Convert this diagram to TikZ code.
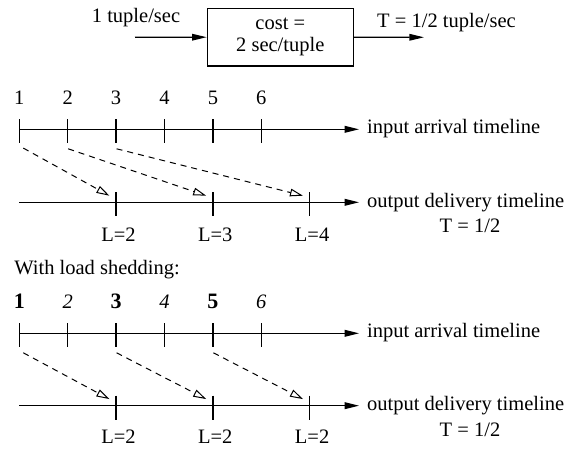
\documentclass[tikz,border=0pt]{standalone}
\usepackage{fontspec}
\setmainfont{Liberation Serif}
\usetikzlibrary{arrows.meta,calc}
\begin{document}
\begin{tikzpicture}[x=0.5pt,y=-0.5pt,
  every node/.style={font=\fontsize{10.25}{12}\selectfont, inner sep=0pt},
  lbl/.style={anchor=base},
  lblw/.style={anchor=base west},
  axis/.style={line width=0.62pt,-{Triangle[length=7.2pt,width=3.4pt]}},
  tickmark/.style={line width=0.62pt},
  flow/.style={line width=0.5pt,dash pattern=on 3pt off 2.5pt,-{Triangle[open,length=6.5pt,width=3.8pt]}},
  feed/.style={line width=0.62pt,-{Triangle[length=7.3pt,width=3.3pt]}},
  procbox/.style={draw,line width=0.62pt,minimum width=73pt,minimum height=28.85pt,align=center,
    font=\fontsize{10.25}{10.85}\selectfont}
]
\useasboundingbox (0,0) rectangle (574,449);

% top operator
\node[procbox] (box) at (280.3,37.2) {cost =\\2 sec/tuple};
\coordinate (inS) at (135,37.3);
\coordinate (outE) at (424,37.3);
\draw[feed] (inS) -- (box.west);
\draw[feed] (box.east) -- (outE);
\node[lbl] (inrate) at (136,22.7) {1 tuple/sec};
\node[lbl] (outrate) at (446.5,27.3) {T = 1/2 tuple/sec};

% ---------- without load shedding ----------
\coordinate (a0) at (19.3,129.3);
\coordinate (aE) at (359,129.3);
\draw[axis] (a0) -- (aE);
\foreach \i in {1,...,6} {
  \coordinate (a\i) at ({19.3+48.4*(\i-1)},129.3);
  \draw[tickmark] (a\i) ++(0,-10) -- ++(0,24);
  \node[lbl] (na\i) at ($(a\i)+(0,-24.3)$) {\i};
}
\node[lblw] (intxt) at (366.7,133.3) {input arrival timeline};

\coordinate (b0) at (19.3,202.3);
\coordinate (bE) at (359,202.3);
\draw[axis] (b0) -- (bE);
\foreach \i/\l in {1/2,2/3,3/4} {
  \coordinate (b\i) at ({116.1+96.8*(\i-1)},202.3);
  \draw[tickmark] (b\i) ++(0,-10) -- ++(0,24);
  \node[lbl] (lb\i) at ($(b\i)+(2.4,39.4)$) {L=\l};
}
\node[lblw] (outtxt) at (366.7,207.3) {output delivery timeline};
\node[lbl] (tb) at (470,232.7) {T = 1/2};

\draw[flow] ($(a1)+(4,18.8)$) -- ($(b1)+(-6.7,-6.6)$);
\draw[flow] ($(a2)+(0.5,19.5)$) -- ($(b2)+(-6.7,-6.6)$);
\draw[flow] ($(a3)+(0.5,19.5)$) -- ($(b3)+(-6.7,-6.6)$);

% ---------- with load shedding ----------
\node[lblw] (ls) at (14,275) {With load shedding:};

\coordinate (c0) at (19.3,333.3);
\coordinate (cE) at (359,333.3);
\draw[axis] (c0) -- (cE);
\foreach \i in {1,...,6} {
  \coordinate (c\i) at ({19.3+48.4*(\i-1)},333.3);
  \draw[tickmark] (c\i) ++(0,-10) -- ++(0,24);
}
\node[lbl,font=\fontsize{11}{12}\selectfont\bfseries] (nc1) at ($(c1)+(0,-25)$) {1};
\node[lbl,font=\fontsize{10.25}{12}\selectfont\itshape] (nc2) at ($(c2)+(0,-25)$) {2};
\node[lbl,font=\fontsize{11}{12}\selectfont\bfseries] (nc3) at ($(c3)+(0,-25)$) {3};
\node[lbl,font=\fontsize{10.25}{12}\selectfont\itshape] (nc4) at ($(c4)+(0,-25)$) {4};
\node[lbl,font=\fontsize{11}{12}\selectfont\bfseries] (nc5) at ($(c5)+(0,-25)$) {5};
\node[lbl,font=\fontsize{10.25}{12}\selectfont\itshape] (nc6) at ($(c6)+(0,-25)$) {6};
\node[lblw] (intxt2) at (366.7,337.3) {input arrival timeline};

\coordinate (d0) at (19.3,405.7);
\coordinate (dE) at (359,405.7);
\draw[axis] (d0) -- (dE);
\foreach \i in {1,2,3} {
  \coordinate (d\i) at ({116.1+96.8*(\i-1)},405.7);
  \draw[tickmark] (d\i) ++(0,-10) -- ++(0,24);
  \node[lbl] (ld\i) at ($(d\i)+(2.4,38.3)$) {L=2};
}
\node[lblw] (outtxt2) at (366.7,410.7) {output delivery timeline};
\node[lbl] (td) at (470,436.1) {T = 1/2};

\draw[flow] ($(c1)+(4,19.5)$) -- ($(d1)+(-6.7,-6.6)$);
\draw[flow] ($(c3)+(0.5,19.5)$) -- ($(d2)+(-6.7,-6.6)$);
\draw[flow] ($(c5)+(0.5,19.5)$) -- ($(d3)+(-6.7,-6.6)$);
\end{tikzpicture}
\end{document}
